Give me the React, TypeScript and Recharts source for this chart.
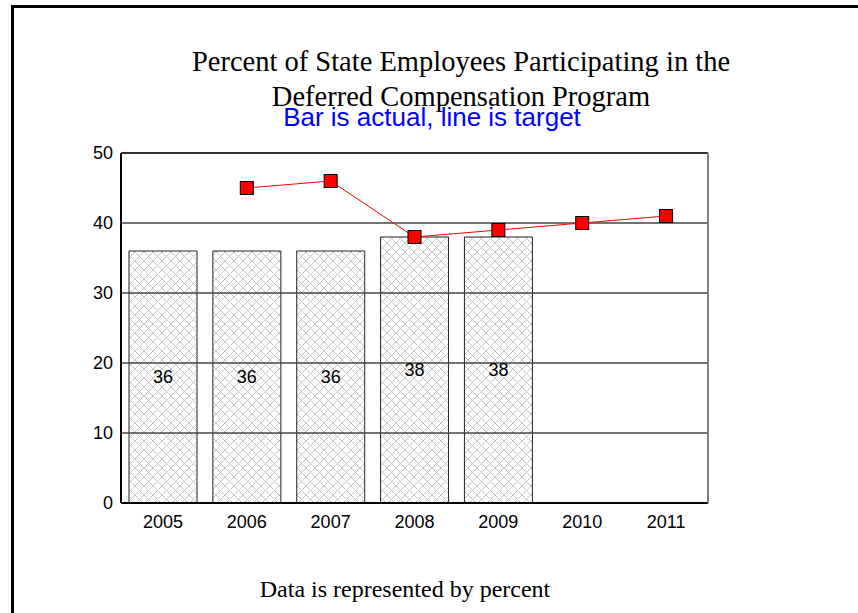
import {
  ComposedChart,
  Bar,
  Line,
  XAxis,
  YAxis,
  ReferenceLine,
  LabelList
} from 'recharts';

const years = ['2005', '2006', '2007', '2008', '2009', '2010', '2011'];
const actual = [36, 36, 36, 38, 38, null, null];
const target = [null, 45, 46, 38, 39, 40, 41];
const yTicks = [0, 10, 20, 30, 40, 50];
const gridValues = [10, 20, 30, 40];

const data = years.map((year, i) => ({
  year,
  actual: actual[i],
  target: target[i]
}));

const SANS = '"Liberation Sans", Arial, sans-serif';
const SERIF = '"Liberation Serif", "Times New Roman", serif';

// red square marker like the old excel chart
const SquareDot = (props: any) => {
  const { cx, cy, value } = props;
  if (value == null || cx == null || cy == null) return null;
  return (
    <rect x={cx - 6.5} y={cy - 6.5} width={13} height={13} fill="#ff0000" stroke="#000" strokeWidth={1} />
  );
};

export default function App() {
  return (
    <div style={{ position: 'fixed', left: 0, top: 0, width: 858, height: 613, overflow: 'hidden', background: '#fff' }}>
      {/* slide frame */}
      <div style={{ position: 'absolute', left: 11, top: 5, width: 900, height: 700, border: '3px solid #000' }} />

      <div style={{ position: 'absolute', left: 161, top: 44, width: 600, textAlign: 'center', fontFamily: SERIF, fontSize: 28.5, lineHeight: '35px', color: '#000' }}>
        Percent of State Employees Participating in the<br />Deferred Compensation Program
      </div>

      <div style={{ position: 'absolute', left: 132, top: 102, width: 600, textAlign: 'center', fontFamily: SANS, fontSize: 26, color: '#0000ff', whiteSpace: 'nowrap' }}>
        Bar is actual, line is target
      </div>

      <div style={{ position: 'absolute', left: 205, top: 577, width: 400, textAlign: 'center', fontFamily: SERIF, fontSize: 24, lineHeight: '24px', color: '#000' }}>
        Data is represented by percent
      </div>

      <div style={{ position: 'absolute', left: 0, top: 0 }}>
        <ComposedChart
          width={858}
          height={613}
          data={data}
          margin={{ top: 152, right: 149, bottom: 80, left: 61 }}
        >
          <defs>
            <pattern id="crosshatch" width="9" height="9" patternUnits="userSpaceOnUse">
              <rect width="9" height="9" fill="#fff" />
              <path d="M0,0 L9,9 M9,0 L0,9" stroke="#c4c4c4" strokeWidth={1} />
            </pattern>
          </defs>

          <XAxis
            dataKey="year"
            height={30}
            tickLine={false}
            tickSize={0}
            tickMargin={12}
            axisLine={{ stroke: '#000', strokeWidth: 2 }}
            tick={{ fill: '#000', fontSize: 18, fontFamily: SANS }}
          />
          <XAxis
            xAxisId="top"
            dataKey="year"
            orientation="top"
            height={1}
            tick={false}
            tickLine={false}
            axisLine={{ stroke: '#333', strokeWidth: 2 }}
          />
          <YAxis
            width={60}
            domain={[0, 50]}
            ticks={yTicks}
            tickLine={false}
            tickSize={0}
            tickMargin={8}
            axisLine={{ stroke: '#000', strokeWidth: 2 }}
            tick={{ fill: '#000', fontSize: 18, fontFamily: SANS }}
          />
          <YAxis
            yAxisId="right"
            orientation="right"
            width={1}
            domain={[0, 50]}
            tick={false}
            tickLine={false}
            axisLine={{ stroke: '#808080', strokeWidth: 2 }}
          />

          <Bar dataKey="actual" fill="url(#crosshatch)" stroke="#222" strokeWidth={1} barSize={68} isAnimationActive={false}>
            <LabelList dataKey="actual" position="center" fill="#000" fontSize={18} fontFamily={SANS} />
          </Bar>

          {gridValues.map(v => (
            <ReferenceLine key={v} y={v} stroke="#444" strokeWidth={1.5} />
          ))}

          <Line
            dataKey="target"
            stroke="#ff0000"
            strokeWidth={1}
            dot={<SquareDot />}
            activeDot={false}
            isAnimationActive={false}
          />
        </ComposedChart>
      </div>
    </div>
  );
}
